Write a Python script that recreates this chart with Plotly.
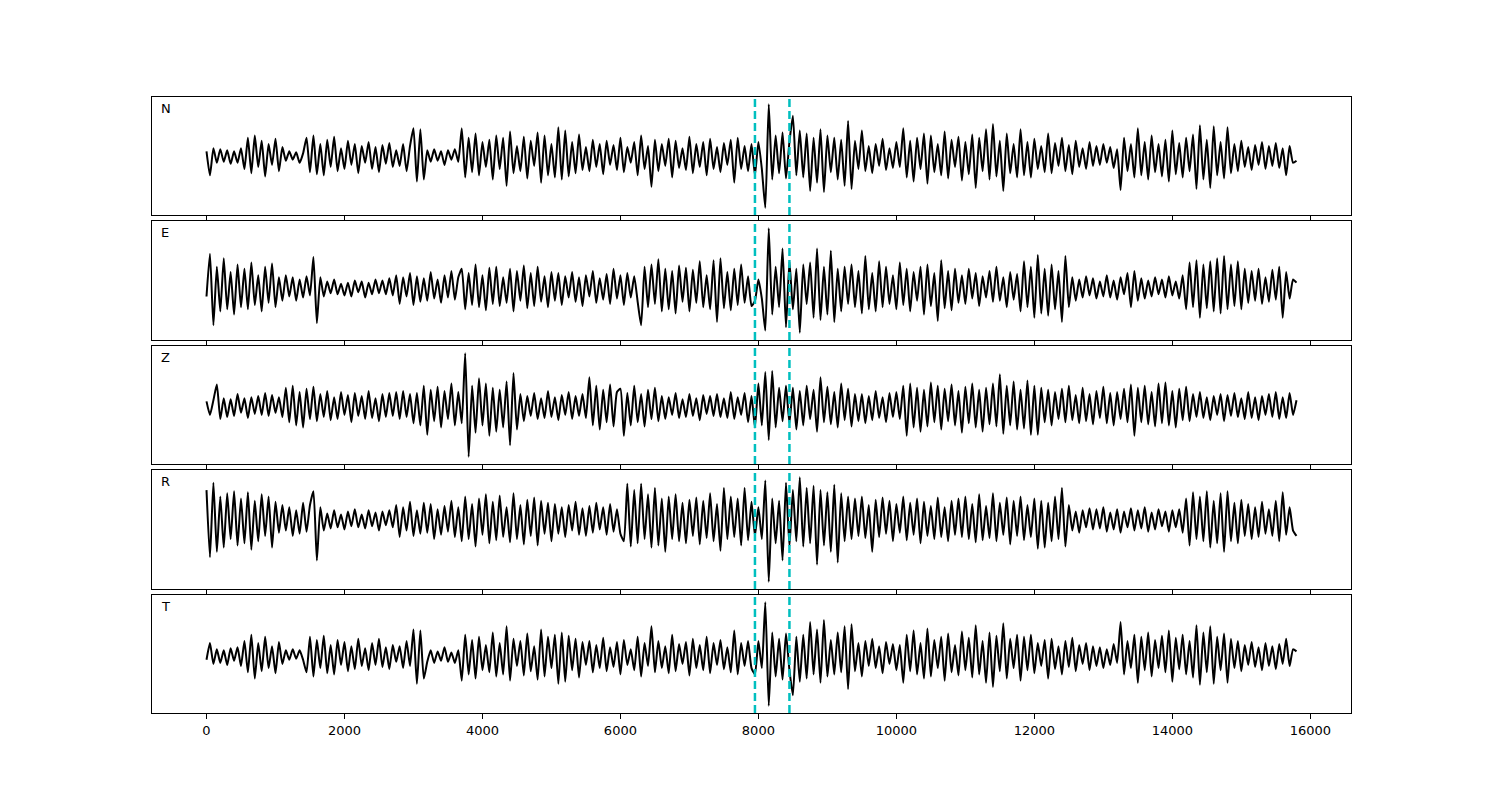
import numpy as np
import plotly.graph_objects as go

# ---------------- data ----------------
SAMPLE_STEP = 50          # spacing of the digitised samples along x
PICK_TIMES = [7950, 8450] # dashed cyan markers
COMPONENTS = ["N", "E", "Z", "R", "T"]
TICK_VALUES = [0, 2000, 4000, 6000, 8000, 10000, 12000, 14000, 16000]

trace_N = [
    5, -18, 8, -6, 7, -5, 6, -7, 5, -6, 8,
    -12, 18, -16, 20, -10, 15, -19, 12, -8, 17, -14, 9,
    -4, 5, -3, 4, -6, 3,
    18, -15, 20, -17, 12, -18, 16, -10, 19, -14, 8, -12,
    15, -8, 12, -16, 10, -6, 14, -12, 9, -15, 11, -7, 13, -10, 6, -9, 12, -14, 10,
    27, -24, 26, -22,
    6, -5, 7, -4, 5, -8, 6, -3, 7, -5,
    27, -20, 18, -15, 22, -18, 14, -10, 16, -22, 20, -12, 18, -28, 24, -16, 10, -14, 19, -21,
    15, -9, 23, -25, 20, -18, 12, -20, 28, -22, 25, -19, 14, -16, 21, -13, 9,
    -14, 16, -10, 12, -17, 15, -8, 11, -13, 18, -15, 9, -6, 14, -18, 20, -12, 10, -29, 16,
    -14, 12, -9, 17, -20, 15, -11, 8, -13, 19, -16, 12, -10, 14, -18, 17, -12, 9, -15, 13,
    -8, 16, -25, 18, -12, 10, -14, 12,
    -18, 14, -12, -49, 50, -22, 20, -16, 23, -21, 14,
    39, -18, 25, -20, 22, -33, 18, -25, 26, -34, 20, -15, 18, -22, 16, -28, 34, -31,
    15, -12, 25, -14, 10, -16, 12, -9, 17, -13, 8, -11, 14, -10,
    27, -20, 15, -24, 18, -12, 22, -26, 20, -15, 12, -18, 24, -21, 16, -10, 19, -23, 14, -17,
    21, -30, 18, -14, 26, -22, 31, -19, 15, -33, 22, -16, 12, -20,
    26, -18, 14, -20, 17, -12, 10, -15, 22, -16, 13, -9, 18, -14, 11, -17, 15, -10, 8, -12, 14, -9,
    10, -8, 12, -6, 9, -11, 7,
    -32, 18, -14, 12, -20,
    27, -18, 14, -22, 20, -15, 12, -19, 16, -24, 25, -17, 13, -20, 18, -14, 21, -31, 30, -22,
    16, -30, 29, -18, 14, -21, 28, -16,
    12, -14, 15, -10, 9, -13, 11, -8, 14, -12, 10, -9, 13, -11, 8, -18, 10, -6, -4,
]

trace_E = [
    -8, 32, -35, 20, -22, 28, -20, 15, -25, 22, -18,
    18, -20, 24, -16, 12, -22, 20, -14, 23, -18, 10, -12,
    12, -8, 10, -12, 8, -9, 11, -7, 29, -33, 10, -8,
    6, -5, 8, -6, 4, -7, 5, -8, 7, -4, 6, -9, 5, -6, 8, -5, 7, -6, 9, -7,
    12, -15, 10, -8, 14, -16, 11, -13, 9, -12, 15, -10, 8, -14, 12, -9, 16, -11, 10,
    18, -20, 14, -16, 22, -18, 12, -21, 19, -15, 20, -17, 10, -14, 18, -22, 16, -12, 21, -19,
    14, -17, 20, -13, 11, -18, 15,
    -12, 14, -16, 11, -9, 15, -13, 10, -17, 12, -8, 16, -14, 9, -11, 13, -15, 18, -10, 12,
    -16, 14, -9, 11, -13,
    -35, 20, -18, 22, -15, 27, -22, 18, -20, 16, -24, 21, -13, 19, -22, 17, -14, 25, -18, 12,
    -20, 26, -32, 28, -19, 15, -21, 18, -16, 22, -14, 11, -17,
    -12, 8, -10, -40, 56, -25, 20, -18, 37, -37, 25,
    -20, 18, -42, 22, -15, 24, -28, 37, -30, 20, -25, 35, -32, 18, -22, 20, -15,
    22, -18, 16, -24, 30, -20, 14, -22, 25, -18, 20, -15, 12, -20, 24, -16, 18, -22, 15, -12,
    20, -25, 22, -17, 14, -31, 26, -19, 16, -21, 18, -14,
    12, -15, 18, -10, 14, -17, 11, -9, 16, -13, 20, -12, 10, -18, 15, -11, 13,
    -22, 25, -18, 20, -28, 31, -24, 18, -26, 22, -20, 16, -32, 30, -18,
    10, -12, 8, -9, 11, -7, 9, -10, 6, -8, 12, -9, 7, -11, 10, -6, 14, -18, 16, -12,
    9, -10, 7, -8, 10, -6, 8, -9, 11, -7, 6, -10, 12,
    -20, 24, -18, 26, -28, 22, -19, 25, -22, 28, -24, 30, -20, 22, -17, 25, -20, 18,
    -14, 16, -12, 18, -15, 10, -13, 17, -11, 20, -28, 15, -10, 8, 5,
]

trace_Z = [
    5, -8, 6, 21, -12, 8, -10, 7, -9, 12, -6, 8, -11, 9, -7, 10, -8, 13, -9, 11, -6, 9, -10,
    18, -15, 20, -18, 14, -20, 17, -12, 19,
    -14, 12, -10, 15, -13, 9, -12, 14, -8, 11, -15, 13, -9, 10, -12, 15, -11, 8, -14, 12,
    -10, 13, -9,
    14, -12, 15, -10, 12, -16, 13,
    -18, 20, -27, 16, -14, 19, -20, 15, -12, 22, -18, 14, -16,
    51, -48,
    20, -25, 27, -18, 22, -28, 18, -24, 16, -20, 24, -37, 32, -22,
    12, -14, 10, -9, 13, -12, 8, -11, 15, -10, 9, -13, 11, -8, 14, -12, 10, -9, 12, -11,
    28, -18, 20, -22, 16, -15, 21, -19, 14, 17, -28, 13, -18, 20, -15, 12, -19, 16, -12, 18, -14,
    10, -12, 9, -8, 13, -11, 7, -10, 12, -9, 8, -13, 11, -7, 10, -9, 12, -10, 8, -11,
    14, -12, 9, -8, 13, -15, 10,
    -20, 22, -18, 33, -32, 34, -20, 18, -14, 20, -16,
    18, -22, 15, -18, 20, -12, 16, -24, 28, -15, 19, -17, 14, -20, 22, -13, 17, -19, 12,
    -14, 12, -16, 10, -13, 15, -11, 9, -15, 13, -10, 14, -12, 20, -28,
    22, -20, 18, -24, 16, -19, 23, -15, 20, -22, 17, -14, 21, -18, 15, -25, 19, -16, 22,
    -20, 16, -24, 18, -17, 22, -19, 31, -26, 20, -18, 24, -22, 16, -21, 25, -27, 20, -27, 18, -15,
    16, -18, 14, -12, 17, -15, 20, -13, 11, -16, 18, -14, 12, -17, 15, -11, 19, -16, 13, -18,
    14, -12, 17, -15, 21,
    -28, 18, -15, 20, -17, 14, -19, 22, -16, 23, -18, 15, -20, 17, -13, 19, -14,
    12, -10, 14, -11, 9, -13, 10, -8, 12, -14, 11, -9, 13, -10, 8, -12, 14, -11, 9, -13,
    10, -8, 12, -10, 14, -12, 9, -11, 13, -8, 6,
]

trace_R = [
    28, -35, 35, -30, 22, -26, 25, -18, 27, -24, 20,
    -22, 26, -28, 18, -20, 24, -15, 22, -26, 17, -12, 14,
    -10, 12, -15, 9, -13, 16, -11, 14, 27, -38, 12, -10,
    6, -8, 9, -7, 5, -9, 8, -6, 10, -7, 5, -8, 9, -6, 7, -10, 8, -5, 9, -7,
    14, -16, 12, -10, 17, -15, 9, -13, 16, -12, 15, -18, 10, -14, 13, -11, 18, -16, 12,
    -20, 22, -18, 15, -25, 20, -14, 24, -22, 17, -19, 23, -16, 12, -21, 25, -18, 14, -23, 19,
    -15, 21, -24, 18, -13, 16, -20,
    15, -13, 12, -16, 14, -10, 17, -14, 11, -15, 13, -12, 16, -9, 12, -14, 15, -11, 10, -13,
    -20, 34, -25, 28, -22, 34, -18, 24, -26, 30, -24, 20, -30,
    22, -18, 24, -20, 16, -22, 19, -15, 21, -23, 18, -17, 25, -20, 15, -29, 30, -18, 22, -16,
    20, -24, 30, -19, 17,
    -15, 12, -18, 37, -58, 20, -22, 18, -38, 35, -25,
    28, -20, 40, -25, 30, -22, 32, -42, 28, -24, 26, -30, 33, -40, 25, -20, 22,
    -18, 20, -15, 22, -17, 14, -30, 19, -16, 21, -13, 18, -20, 15, -12, 22, -19, 16, -14, 20,
    -22, 17, -15, 13, -18, 21, -16, 12, -20, 18, -14,
    20, -16, 22, -18, 15, -21, 24, -19, 13, -17, 25, -20, 16, -14, 21, -23, 18, -15, 22, -19,
    14, -16, 20, -27, 18, -26, 16, -20, 22, -18, 30, -25, 14,
    -10, 8, -12, 9, -7, 11, -9, 10, -8, 12, -11, 7, -9, 10, -12, 8, -7, 11, -10, 9,
    -8, 12, -11, 7, -9, 10, -6, 8, -11, 9, -7, 10, -12,
    20, -24, 26, -18, 22, -20, 27, -26, 18, -22, 25, -30, 27, -20, 16, -22, 19, -15,
    15, -18, 12, -16, 17, -13, 10, -15, 18, -20, 26, -14, 12, -10, -15,
]

trace_T = [
    -4, 12, -8, 6, -7, 5, -9, 7, -5, 8, -10,
    14, -16, 20, -22, 12, -15, 18, -12, 9, -17, 13, -8,
    5, -4, 6, -3, 5, -4,
    -16, 18, -20, 15, -12, 19, -17, 10, -18, 15, -9, 13,
    -15, 9, -13, 16, -10, 7, -14, 12, -9, 16, -11, 8, -13, 10, -6, 9, -12, 14, -10,
    25, -27, 24, -22,
    -6, 5, -7, 4, -5, 8, -6, 3, -7, 5,
    -24, 20, -18, 15, -22, 18, -14, 10, -16, 22, -20, 12, -18, 28, -24, 16, -10, 14, -19, 21,
    -15, 9, -23, 25, -20, 18, -12, 20, -27, 22, -25, 19, -14, 16, -21, 13, -9,
    14, -16, 10, -12, 17, -15, 8, -11, 13, -18, 15, -9, 6, -14, 18, -20, 12, -10, 28, -16,
    14, -12, 9, -17, 20, -15, 11, -8, 13, -19, 16, -12, 10, -14, 18, -17, 12, -9, 15, -13,
    8, -16, 24, -18, 12, -10, 14, -12,
    -18, 14, -12, 51, -48, 22, -20, 16, -23, 21, -14,
    -38, 18, -25, 20, -22, 32, -18, 25, -26, 34, -20, 15, -18, 22, -16, 28, -32, 30,
    -15, 12, -20, 14, -10, 16, -12, 9, -17, 13, -8, 11, -14, 10,
    -26, 20, -15, 24, -18, 12, -22, 26, -20, 15, -12, 18, -24, 21, -16, 10, -19, 23, -14, 17,
    -21, 29, -18, 14, -26, 22, -30, 19, -15, 31, -22, 16, -12, 20,
    -24, 18, -14, 20, -17, 12, -10, 15, -22, 16, -13, 9, -18, 14, -11, 17, -15, 10, -8, 12, -14, 9,
    -10, 8, -12, 6, -9, 11, -7,
    32, -18, 14, -12, 20,
    -26, 18, -14, 22, -20, 15, -12, 19, -16, 24, -25, 17, -13, 20, -18, 14, -21, 29, -28, 22,
    -16, 28, -27, 18, -14, 21, -26, 16,
    -12, 14, -15, 10, -9, 13, -11, 8, -14, 12, -10, 9, -13, 11, -8, 16, -10, 6, 4,
]

TRACES = [trace_N, trace_E, trace_Z, trace_R, trace_T]

# ---------------- figure ----------------
W, H = 1500, 800
PAGE_OFFSET = 7                      # page margin around the plot div
ML, MR, MT, MB = 151 - PAGE_OFFSET, 150 + PAGE_OFFSET, 96 - PAGE_OFFSET, 88 + PAGE_OFFSET
AREA_TOP, AREA_BOT = 96, 712         # plot area in reference pixels
plot_h = AREA_BOT - AREA_TOP
panel_px = [(96, 214), (220, 339), (345, 463), (469, 588), (594, 712)]
CYAN = "#00bfbf"
FONT = "DejaVu Sans, Arial, sans-serif"

fig = go.Figure()
layout = dict(
    width=W, height=H,
    margin=dict(l=ML, r=MR, t=MT, b=MB),
    paper_bgcolor="white", plot_bgcolor="white",
    showlegend=False,
    font=dict(family=FONT, size=13, color="black"),
)
annotations, shapes = [], []
for k, (name, vals) in enumerate(zip(COMPONENTS, TRACES)):
    n = k + 1
    xa = "x" if n == 1 else f"x{n}"
    ya = "y" if n == 1 else f"y{n}"
    xs = np.arange(len(vals)) * SAMPLE_STEP
    ys = np.asarray(vals, dtype=float)
    fig.add_trace(go.Scatter(x=xs, y=ys, mode="lines", xaxis=xa, yaxis=ya,
                             line=dict(color="black", width=2, shape="spline", smoothing=0.5),
                             hoverinfo="skip"))
    top, bot = panel_px[k]
    d0 = (AREA_BOT - bot) / plot_h
    d1 = (AREA_BOT - top) / plot_h
    lo, hi = ys.min(), ys.max()
    pad = 0.07 * (hi - lo)
    xmin, xmax = xs.min(), xs.max()
    xpad = 0.05 * (xmax - xmin)
    key_x = "xaxis" if n == 1 else f"xaxis{n}"
    key_y = "yaxis" if n == 1 else f"yaxis{n}"
    layout[key_x] = dict(
        domain=[0, 1], anchor=ya, range=[xmin - xpad, xmax + xpad],
        showline=True, mirror=True, linecolor="black", linewidth=1,
        showgrid=False, zeroline=False,
        ticks="outside", ticklen=5, tickwidth=1, tickcolor="black",
        tickvals=TICK_VALUES, ticktext=[str(v) for v in TICK_VALUES],
        showticklabels=(n == 5),
        tickfont=dict(family=FONT, size=13, color="black"),
    )
    if n != 1:
        layout[key_x]["matches"] = "x"
    layout[key_y] = dict(
        domain=[d0, d1], anchor=xa, range=[lo - pad, hi + pad],
        showline=True, mirror=True, linecolor="black", linewidth=1,
        showgrid=False, zeroline=False, showticklabels=False, ticks="",
    )
    annotations.append(dict(
        text=name, xref=f"{xa} domain", yref=f"{ya} domain",
        x=0.006, y=0.9, xanchor="left", yanchor="middle", showarrow=False,
        font=dict(family=FONT, size=13, color="black"),
    ))
    for t in PICK_TIMES:
        shapes.append(dict(
            type="line", xref=xa, yref=f"{ya} domain", x0=t, x1=t, y0=0, y1=1,
            line=dict(color=CYAN, width=2.5, dash="8px,4px"), layer="above",
        ))

layout["annotations"] = annotations
layout["shapes"] = shapes
fig.update_layout(**layout)
fig.write_html("out.html")
